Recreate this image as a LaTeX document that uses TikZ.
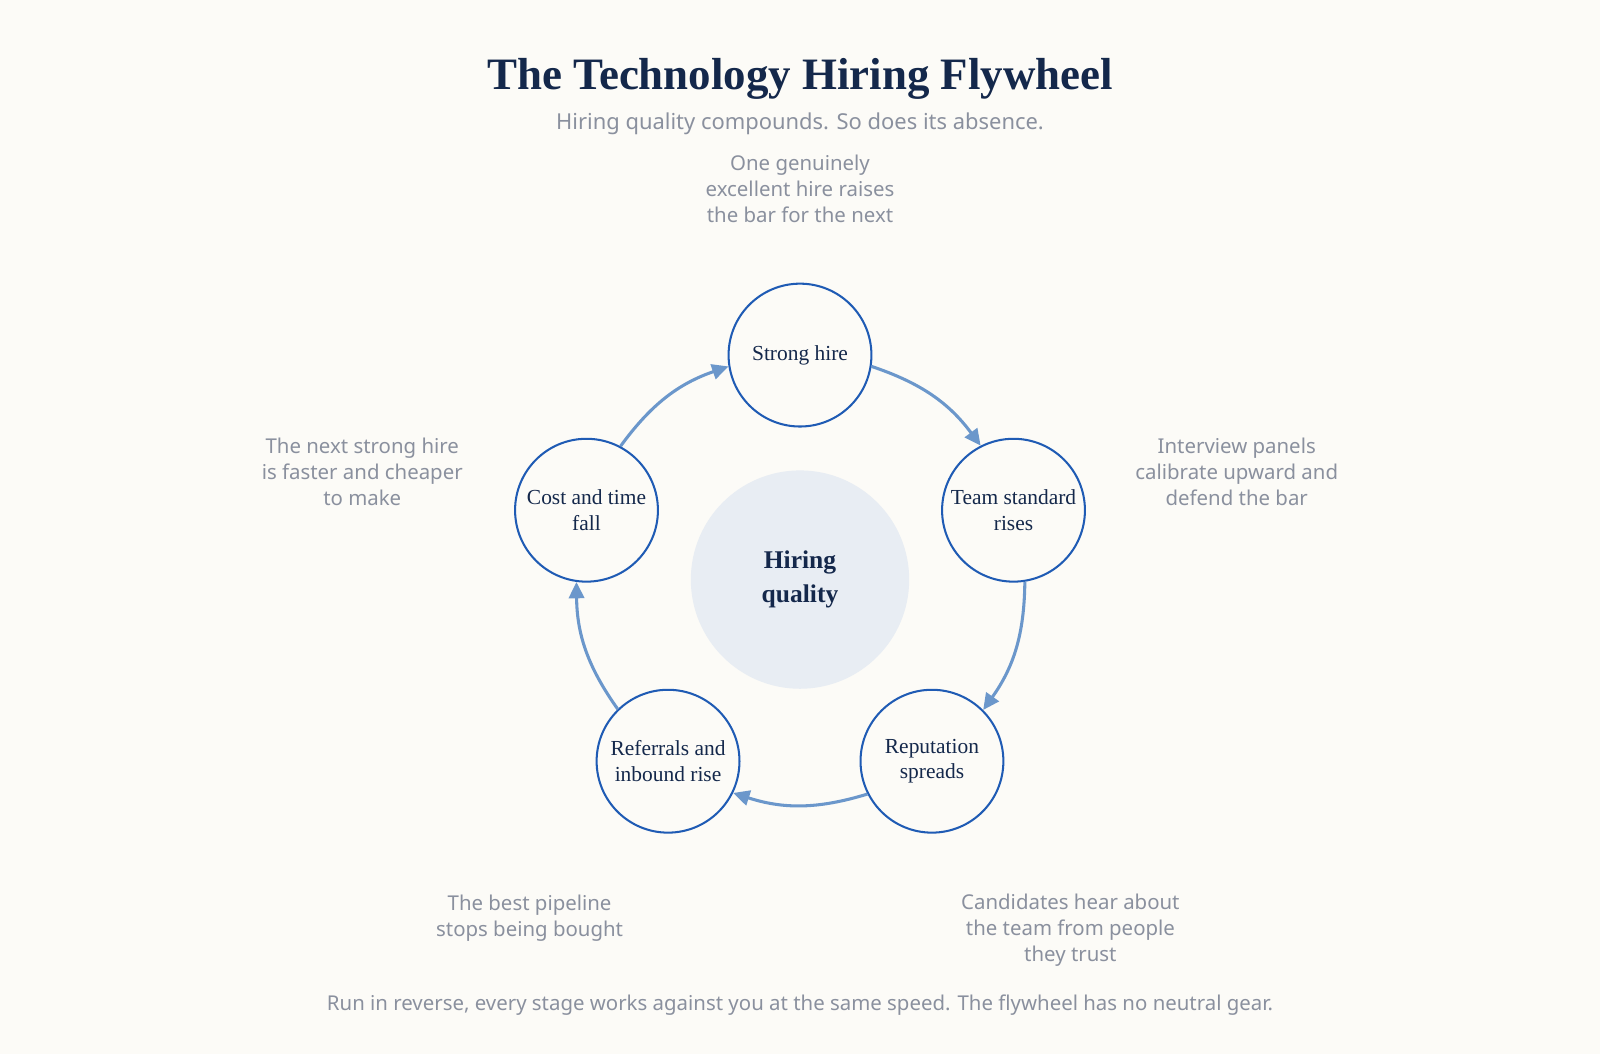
\documentclass[tikz,border=0pt]{standalone}
\usepackage{fontspec}
\setmainfont{Liberation Serif}
\setsansfont{Noto Sans}
\definecolor{paper}{RGB}{252, 251, 247}
\definecolor{inkblue}{RGB}{20, 40, 75}
\definecolor{ringblue}{RGB}{31, 91, 180}
\definecolor{arrowblue}{RGB}{107, 151, 203}
\definecolor{hubfill}{RGB}{232, 237, 243}
\definecolor{notegray}{RGB}{138, 144, 158}
\usetikzlibrary{arrows.meta, positioning, calc}

\begin{document}
\begin{tikzpicture}[x=1pt, y=1pt,
  stage/.style={circle, draw=ringblue, line width=2pt, fill=paper, minimum size=140pt,
                inner sep=0pt, align=center, text=inkblue, font=\fontsize{21}{25}\selectfont},
  note/.style={text=notegray, align=center, font=\sffamily\fontsize{20}{25.5}\selectfont},
  flow/.style={-{Triangle[length=16pt, width=15pt]}, line width=3pt, arrowblue},
]
\useasboundingbox[fill=paper] (0,0) rectangle (1568,1033);

% Title
\node[anchor=base, text=inkblue, font=\bfseries\fontsize{44}{50}\selectfont] (title) at (784, 945)
  {The Technology Hiring Flywheel};
\node[anchor=base, text=notegray, font=\sffamily\fontsize{21.5}{26}\selectfont] (subtitle) at (784, 906)
  {Hiring quality compounds. So does its absence.};

% Wheel
\coordinate (hub) at (784, 465);
\node[circle, fill=hubfill, minimum size=214pt, inner sep=0pt, align=center, text=inkblue,
      font=\bfseries\fontsize{25}{33}\selectfont] (quality) at (hub) {Hiring\\quality};

\node[stage] (hire) at ($(hub)+(90:220)$) {Strong hire};
\node[stage] (team) at ($(hub)+(18:220)$) {Team standard\\rises};
\node[stage] (rep) at ($(hub)+(-54:220)$) {Reputation\\spreads};
\node[stage] (refer) at ($(hub)+(-126:220)$) {Referrals and\\inbound rise};
\node[stage] (cost) at ($(hub)+(162:220)$) {Cost and time\\fall};

\draw[flow] (hire.-9.3) to[bend left=17.4] (team.117.3);
\draw[flow] (team.-81.3) to[bend left=17.4] (rep.45.3);
\draw[flow] (rep.-153.3) to[bend left=17.4] (refer.-26.7);
\draw[flow] (refer.134.7) to[bend left=17.4] (cost.-98.7);
\draw[flow] (cost.62.7) to[bend left=17.4] (hire.189.3);

% Notes
\node[note] (hirenote) at (784, 848) {One genuinely\\excellent hire raises\\the bar for the next};
\node[note] (teamnote) at (1212, 571) {Interview panels\\calibrate upward and\\defend the bar};
\node[note] (repnote) at (1049, 121) {Candidates hear about\\the team from people\\they trust};
\node[note] (refernote) at (519, 133) {The best pipeline\\stops being bought};
\node[note] (costnote) at (355, 571) {The next strong hire\\is faster and cheaper\\to make};

% Bottom
\node[anchor=base, text=notegray, font=\sffamily\fontsize{20}{24}\selectfont] (footer) at (784, 43)
  {Run in reverse, every stage works against you at the same speed. The flywheel has no neutral gear.};
\end{tikzpicture}
\end{document}
